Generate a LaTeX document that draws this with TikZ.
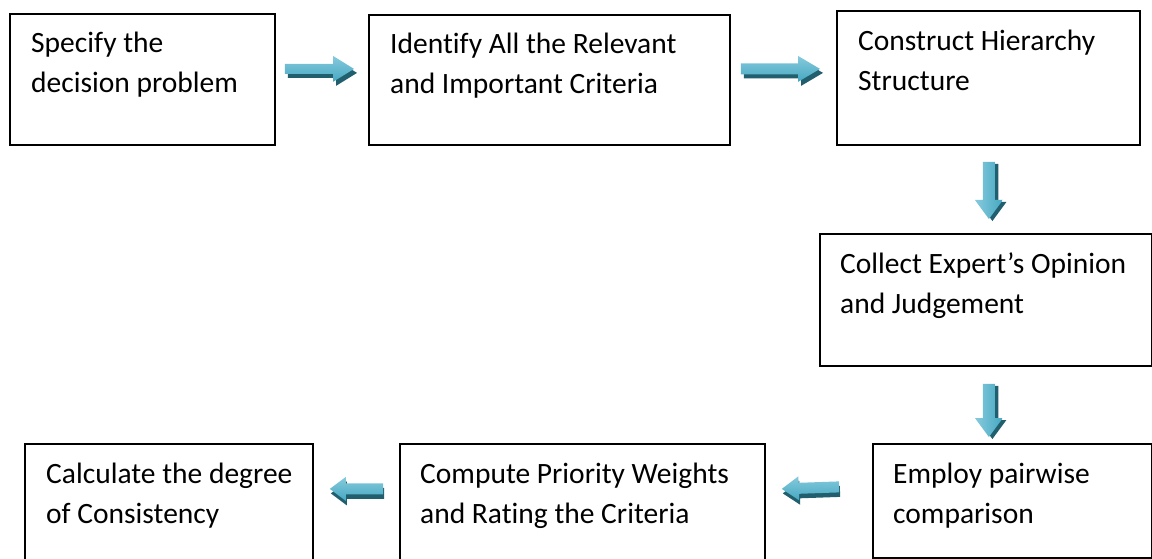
\documentclass[tikz,border=0pt]{standalone}
\usepackage{fontspec}
\setmainfont{Carlito}[Ligatures=NoCommon]
\usetikzlibrary{calc}

\definecolor{arrowmain}{HTML}{45A8C2}
\definecolor{arrowlight}{HTML}{86CADC}
\definecolor{arrowshadow}{HTML}{215E6E}

\tikzset{
  stepbox/.style={draw=black, line width=1.8pt, rectangle, inner sep=0pt,
    anchor=north west},
  steptext/.style={anchor=base west, align=left, inner sep=0pt,
    font=\fontsize{29.5}{40}\selectfont},
  hshade/.style={top color=arrowlight, bottom color=arrowmain},
  vshade/.style={left color=arrowlight, right color=arrowmain},
}

% outline of a block arrow from tail #1 to tip #2:
% #3 shaft half width, #4 head half width, #5 head length, #6 drawing command
\newcommand\arrowshape[6]{%
  \coordinate (hb) at ($(#2)!#5!(#1)$);
  #6 ($(#1)!#3!90:(#2)$) -- ($(hb)!#3!90:(#2)$) -- ($(hb)!#4!90:(#2)$) -- (#2)
     -- ($(hb)!#4!-90:(#2)$) -- ($(hb)!#3!-90:(#2)$) -- ($(#1)!#3!-90:(#2)$) -- cycle;
}
% block arrow with a dark drop shadow
% #1 tail, #2 tip, #3 shaft half width, #4 head half width, #5 head length,
% #6 shadow shift, #7 shading style
\newcommand\blockarrow[7]{%
  \arrowshape{#1}{#2}{#3}{#4}{#5}{\fill[arrowshadow, transform canvas={shift={#6}}]}
  \arrowshape{#1}{#2}{#3}{#4}{#5}{\shade[#7]}
}

\begin{document}
\begin{tikzpicture}[x=1pt, y=-1pt]
  \useasboundingbox (0,0) rectangle (1152,559);

  % process boxes
  \node[stepbox, minimum width=265pt, minimum height=131pt] (b1) at (9,13) {};
  \node[stepbox, minimum width=361pt, minimum height=130pt] (b2) at (368,14) {};
  \node[stepbox, minimum width=303pt, minimum height=134pt] (b3) at (836,10) {};
  \node[stepbox, minimum width=332pt, minimum height=132pt] (b4) at (819,233) {};
  \node[stepbox, minimum width=279pt, minimum height=114pt] (b5) at (872,443) {};
  \node[stepbox, minimum width=365pt, minimum height=122pt] (b6) at (399,443) {};
  \node[stepbox, minimum width=288pt, minimum height=122pt] (b7) at (24,443) {};

  % box captions (the base anchor sits on the second line)
  \node[steptext] (t1) at ($(b1.north west)+(22,80)$) {Specify the\\decision problem};
  \node[steptext] (t2) at ($(b2.north west)+(22,80)$) {Identify All the Relevant\\and Important Criteria};
  \node[steptext] (t3) at ($(b3.north west)+(22,81)$) {Construct Hierarchy\\Structure};
  \node[steptext] (t4) at ($(b4.north west)+(21,80)$) {Collect Expert’s Opinion\\and Judgement};
  \node[steptext] (t5) at ($(b5.north west)+(21,80)$) {Employ pairwise\\comparison};
  \node[steptext] (t6) at ($(b6.north west)+(21,80)$) {Compute Priority Weights\\and Rating the Criteria};
  \node[steptext] (t7) at ($(b7.north west)+(22,80)$) {Calculate the degree\\of Consistency};

  % arrow end points
  \coordinate (a1s) at ($(b1.east)+(9,-10.5)$);
  \coordinate (a1e) at ($(b2.west)+(-14,-11)$);
  \coordinate (a2s) at ($(b2.east)+(10,-11)$);
  \coordinate (a2e) at ($(b3.west)+(-16,-9)$);
  \coordinate (a3s) at ($(b3.south)+(0.5,16)$);
  \coordinate (a3e) at ($(b4.north)+(3,-14)$);
  \coordinate (a4s) at ($(b4.south)+(3,17)$);
  \coordinate (a4e) at ($(b5.north)+(-23.5,-6)$);
  \coordinate (a5s) at ($(b5.west)+(-33,-14)$);
  \coordinate (a5e) at ($(b6.east)+(16,-16)$);
  \coordinate (a6s) at ($(b6.west)+(-16,-16)$);
  \coordinate (a6e) at ($(b7.east)+(16,-16)$);

  % block arrows between the steps
  \blockarrow{a1s}{a1e}{5pt}{13pt}{21pt}{(3pt,-4pt)}{hshade}
  \blockarrow{a2s}{a2e}{5.5pt}{13pt}{22pt}{(3pt,-4pt)}{hshade}
  \blockarrow{a3s}{a3e}{6pt}{14pt}{19pt}{(3.5pt,-2pt)}{vshade}
  \blockarrow{a4s}{a4e}{6pt}{14pt}{19pt}{(3.5pt,-2pt)}{vshade}
  \blockarrow{a5s}{a5e}{5.5pt}{12pt}{17pt}{(1pt,-4.5pt)}{hshade}
  \blockarrow{a6s}{a6e}{5.5pt}{12pt}{16pt}{(1pt,-4.5pt)}{hshade}
\end{tikzpicture}
\end{document}
